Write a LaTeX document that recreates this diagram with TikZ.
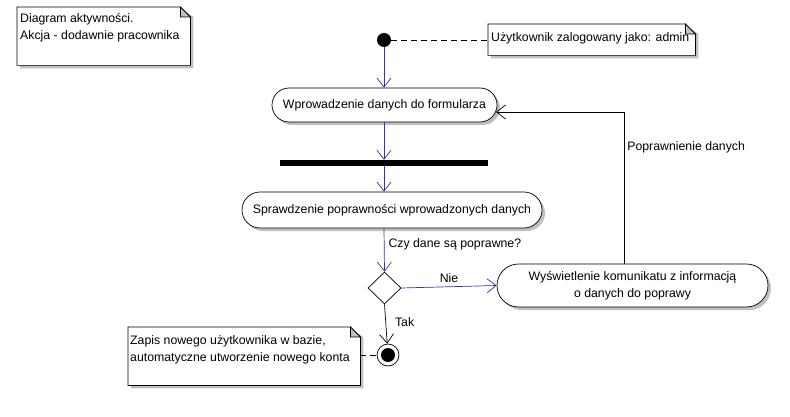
\documentclass[tikz,border=0pt]{standalone}
\usepackage{fontspec}
\setmainfont{Liberation Sans}
\usetikzlibrary{shapes.misc,shapes.geometric,arrows.meta,shadows}
\definecolor{flowblue}{RGB}{51,51,170}
\definecolor{shadegray}{RGB}{192,192,192}
\begin{document}
\begin{tikzpicture}[x=1pt,y=-1pt,
  every node/.append style={font=\fontsize{12.3}{17}\selectfont},
  act/.style={rounded rectangle, draw, fill=white, line width=0.7pt, inner sep=0pt,
    drop shadow={shadow xshift=3pt, shadow yshift=-3pt, fill=shadegray, opacity=1}},
  notebody/.style={minimum width=#1, inner sep=0pt, draw=none},
  notetext/.style={anchor=north west, align=left, inner sep=0pt},
  flow/.style={draw=flowblue, line width=0.7pt, -{Straight Barb[length=9pt,width=14pt]}},
  back/.style={draw=black, line width=0.7pt, -{Straight Barb[length=9pt,width=14pt]}},
  link/.style={draw=black, line width=0.7pt, dash pattern=on 6pt off 4pt},
  lbl/.style={inner sep=0pt},
  startdot/.style={circle, fill=black, minimum size=14pt, inner sep=0pt},
  enddot/.style={circle, draw, fill=white, line width=0.7pt, minimum size=22pt, inner sep=0pt,
    path picture={\fill[black] (path picture bounding box.center) circle (7);}},
  barbox/.style={rectangle, fill=black, minimum width=208pt, minimum height=6pt, inner sep=0pt},
  decision/.style={diamond, draw, fill=white, line width=0.7pt, minimum width=33pt, minimum height=32pt, inner sep=0pt}
]
\useasboundingbox (0,0) rectangle (790,417);

% note boxes (empty frames) and anchors for their texts
\node[notebody=173pt, minimum height=58pt, anchor=north west] (n1) at (17,7) {};
\coordinate (n1t) at (20,13);
\node[notebody=207pt, minimum height=31pt, anchor=north west] (n2) at (488,24) {};
\coordinate (n2t) at (491,32);
\node[notebody=232pt, minimum height=58pt, anchor=north west] (n3) at (128,327) {};
\coordinate (n3t) at (130,335);

% dog-eared outlines of the notes
\foreach \n in {n1,n2,n3}{
  \fill[shadegray] ([shift={(3,3)}]\n.north west) -- ([shift={(-7,3)}]\n.north east)
     -- ([shift={(3,10)}]\n.north east) -- ([shift={(3,3)}]\n.south east)
     -- ([shift={(3,3)}]\n.south west) -- cycle;
  \filldraw[fill=white, line width=0.7pt] (\n.north west) -- ([shift={(-10,0)}]\n.north east)
     -- ([shift={(0,10)}]\n.north east) -- (\n.south east) -- (\n.south west) -- cycle;
  \filldraw[fill=shadegray, line width=0.7pt] ([shift={(-10,0)}]\n.north east)
     -- ([shift={(-10,10)}]\n.north east) -- ([shift={(0,10)}]\n.north east) -- cycle;
}
\node[notetext] (n1txt) at (n1t) {Diagram aktywności.\\Akcja - dodawnie pracownika};
\node[notetext] (n2txt) at (n2t) {Użytkownik zalogowany jako: admin};
\node[notetext] (n3txt) at (n3t) {Zapis nowego użytkownika w bazie,\\automatyczne utworzenie nowego konta};

% activity nodes
\node[startdot] (start) at (384,40) {};
\node[act, minimum width=225pt, minimum height=34pt] (act1) at (384.5,105) {Wprowadzenie danych do formularza};
\node[barbox] (bar) at (384,163) {};
\node[act, minimum width=300pt, minimum height=36pt] (act2) at (392,210) {Sprawdzenie poprawności wprowadzonych danych};
\node[decision] (dec) at (384.5,288) {};
\node[act, minimum width=271pt, minimum height=43pt, align=center] (act3) at (632.5,285.5)
  {Wyświetlenie komunikatu z informacją\\o danych do poprawy};
\node[enddot] (end) at (388,355) {};

\coordinate (loopx) at (624,0);
\coordinate (backin) at (496,112);

% connectors
\draw[link] (start) -- (n2.west |- start);
\draw[link] (n3.east |- end) -- (end);
\draw[flow] (start) -- (act1.north -| start);
\draw[flow] (act1.south -| start) -- (bar.north -| start);
\draw[flow] (bar.south -| start) -- (act2.north -| start);
\draw[flow] (act2.south -| start) -- node[lbl, pos=0.36, anchor=west, xshift=4pt] {Czy dane są poprawne?} (dec.north);
\draw[flow] (dec.east) -- node[lbl, above, yshift=4pt] {Nie} (act3.west);
\draw[back] (dec.south) -- node[lbl, pos=0.45, anchor=west, xshift=9pt] {Tak} (end);
\draw[back] (loopx |- act3.north) |- node[lbl, pos=0.385, anchor=west, xshift=3pt] {Poprawnienie danych} (backin);
\end{tikzpicture}
\end{document}
